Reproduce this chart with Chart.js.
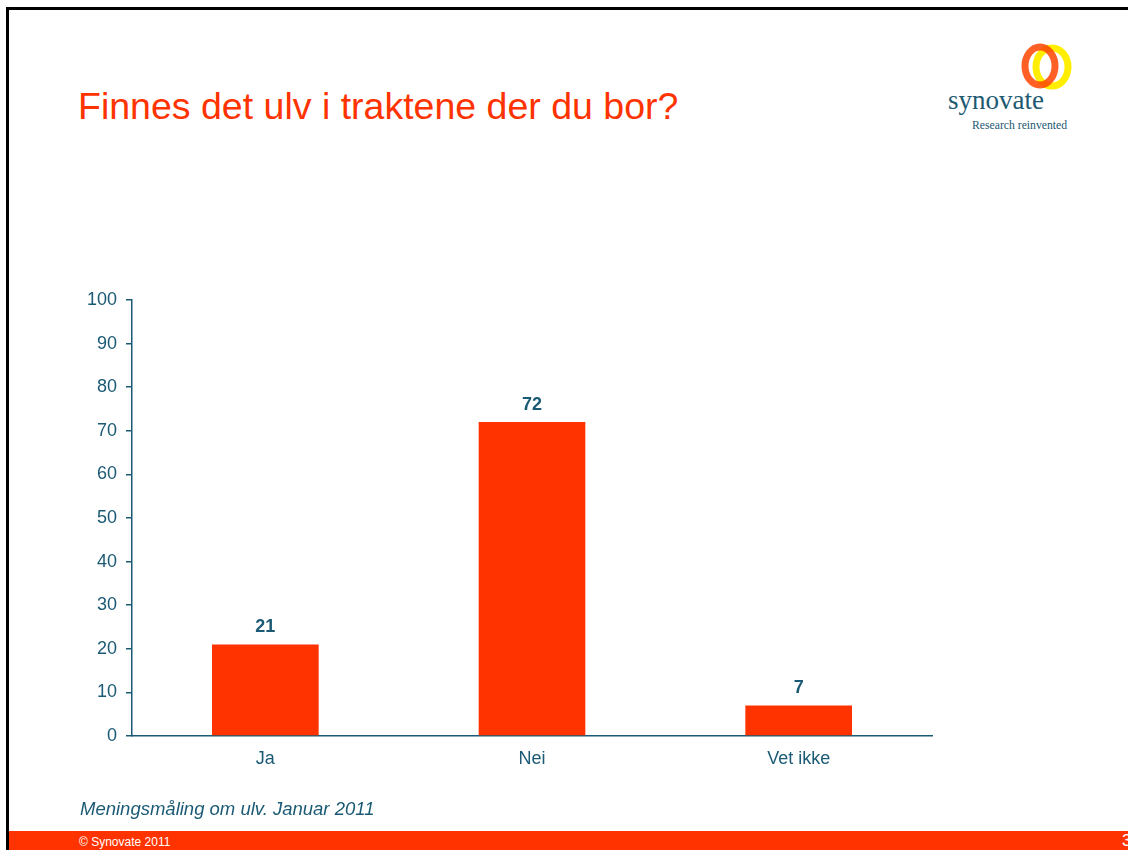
<!DOCTYPE html>
<html>
<head>
<meta charset="utf-8">
<script src="https://cdn.jsdelivr.net/npm/chart.js@4"></script>
<style>
  html, body { margin: 0; padding: 0; background: #fff; }
  body { width: 1128px; height: 850px; position: relative; overflow: hidden; font-family: "Liberation Sans", Arial, sans-serif; }
  #frame { position: absolute; left: 6px; top: 7px; width: 1140px; height: 860px; border-left: 3px solid #000; border-top: 3px solid #000; }
  #title { position: absolute; left: 78px; top: 85px; font-size: 37.5px; color: #ff3300; white-space: nowrap; }
  #note { position: absolute; left: 80px; top: 798px; font-size: 18.5px; font-style: italic; color: #1b5a74; white-space: nowrap; }
  #footer { position: absolute; left: 9px; top: 831px; width: 1119px; height: 19px; background: #ff3300; }
  #copy { position: absolute; left: 70px; top: 4px; font-size: 12px; color: #fff; white-space: nowrap; }
  #page { position: absolute; left: 1113px; top: 0px; font-size: 17px; color: #fff; }
  #logo { position: absolute; left: 940px; top: 38px; }
  #chart { position: absolute; left: 0; top: 0; }
</style>
</head>
<body>
<div id="frame"></div>
<div id="title">Finnes det ulv i traktene der du bor?</div>
<svg id="logo" width="150" height="100">
  <ellipse cx="112" cy="29" rx="16" ry="19" fill="none" stroke="#ffee00" stroke-width="7"/>
  <ellipse cx="100" cy="28" rx="15" ry="19" fill="none" stroke="#ff4400" stroke-width="7" opacity="0.85"/>
  <text x="8" y="71" font-family="Liberation Serif, serif" font-size="27" fill="#1d5a72">synovate</text>
  <text x="32" y="91" font-family="Liberation Serif, serif" font-size="11.7" fill="#1d5a72">Research reinvented</text>
</svg>
<canvas id="chart" width="1128" height="850"></canvas>
<div id="note">Meningsmåling om ulv. Januar 2011</div>
<div id="footer"><span id="copy">© Synovate 2011</span><span id="page">3</span></div>
<script>
const categories = ["Ja", "Nei", "Vet ikke"];
const values = [21, 72, 7];
const y_ticks = [0, 10, 20, 30, 40, 50, 60, 70, 80, 90, 100];

const teal = "#1b5a74";
const bar_red = "#ff3300";

// value labels above each bar
const valueLabels = {
  id: "valueLabels",
  afterDatasetsDraw(chart) {
    const ctx = chart.ctx;
    const meta = chart.getDatasetMeta(0);
    ctx.save();
    ctx.font = "bold 18px 'Liberation Sans', Arial, sans-serif";
    ctx.fillStyle = teal;
    ctx.textAlign = "center";
    ctx.textBaseline = "alphabetic";
    meta.data.forEach(function (bar, i) {
      ctx.fillText(String(values[i]), bar.x, bar.y - 12);
    });
    ctx.restore();
  }
};

new Chart(document.getElementById("chart"), {
  type: "bar",
  data: {
    labels: categories,
    datasets: [{
      data: values,
      backgroundColor: bar_red,
      categoryPercentage: 1,
      barPercentage: 0.4
    }]
  },
  plugins: [valueLabels],
  options: {
    responsive: false,
    animation: false,
    layout: {
      padding: { left: 72, top: 300, right: 196, bottom: 74 }
    },
    plugins: {
      legend: { display: false },
      tooltip: { enabled: false }
    },
    scales: {
      x: {
        afterFit: function (scale) { scale.height = 40; },
        grid: { display: false, drawTicks: false },
        border: { color: teal, width: 1.5 },
        ticks: {
          color: teal,
          padding: 12,
          font: { family: "'Liberation Sans', Arial, sans-serif", size: 18 }
        }
      },
      y: {
        min: 0,
        max: 100,
        afterFit: function (scale) { scale.width = 60; },
        afterBuildTicks: function (scale) {
          scale.ticks = y_ticks.map(function (v) { return { value: v }; });
        },
        grid: { drawOnChartArea: false, drawTicks: true, tickLength: 6, color: teal, lineWidth: 1.5 },
        border: { color: teal, width: 1.5 },
        ticks: {
          color: teal,
          padding: 9,
          font: { family: "'Liberation Sans', Arial, sans-serif", size: 18 }
        }
      }
    }
  }
});
</script>
</body>
</html>
